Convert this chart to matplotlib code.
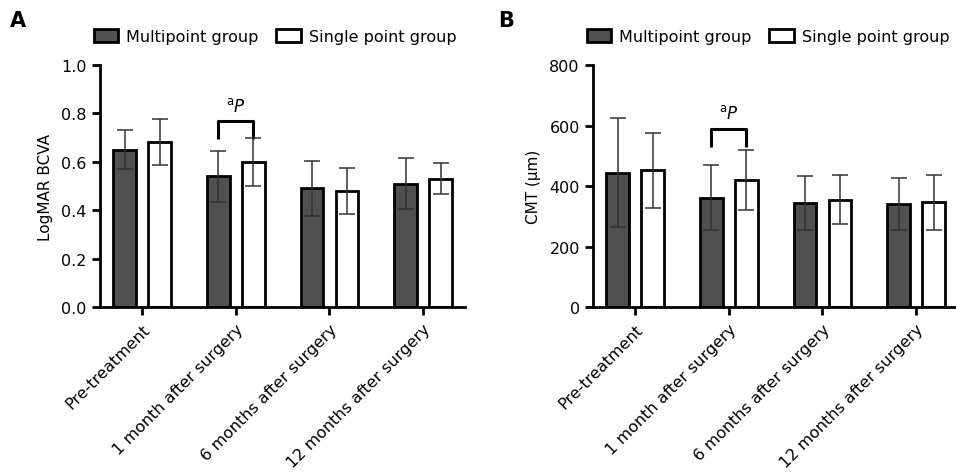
import numpy as np
import matplotlib.pyplot as plt

# Данные
timepoints = ["Pre-treatment", "1 month after surgery", "6 months after surgery",
              "12 months after surgery"]
groups = ["Multipoint group", "Single point group"]

bcva_multi = [0.65, 0.54, 0.49, 0.51]
bcva_multi_sd = [0.08, 0.105, 0.115, 0.105]
bcva_single = [0.68, 0.60, 0.48, 0.53]
bcva_single_sd = [0.095, 0.10, 0.094, 0.065]

cmt_multi = [444, 362, 344, 341]
cmt_multi_sd = [181, 107, 89, 87]
cmt_single = [452, 420, 355, 346]
cmt_single_sd = [124, 98, 81, 91]

plt.rcParams['font.family'] = ['DejaVu Sans']

dark = '#505050'
w = 0.24
off = 0.187


def draw_panel(ax, multi, multi_sd, single, single_sd, ylim, yticks, ylabel, fmt, br_y, br_h, txt_y):
    x = np.arange(len(timepoints))
    ax.bar(x - off, multi, w, color=dark, edgecolor='black', linewidth=2, label=groups[0], zorder=2)
    ax.bar(x + off, single, w, color='white', edgecolor='black', linewidth=2, label=groups[1], zorder=2)
    ax.errorbar(x - off, multi, yerr=multi_sd, fmt='none', ecolor='#333333', elinewidth=1.1,
                capsize=6, capthick=1.1, zorder=3)
    ax.errorbar(x + off, single, yerr=single_sd, fmt='none', ecolor='#333333', elinewidth=1.1,
                capsize=6, capthick=1.1, zorder=3)

    # Скобка значимости
    x1, x2 = 1 - off, 1 + off
    ax.plot([x1, x1, x2, x2], [br_y - br_h, br_y, br_y, br_y - br_h], color='black', lw=2.2,
            solid_capstyle='butt', clip_on=False)
    ax.text(1, txt_y, r'$^{\mathrm{a}}\mathit{P}$', ha='center', va='center', fontsize=12)

    ax.set_xlim(-0.45, 3.45)
    ax.set_ylim(*ylim)
    ax.set_yticks(yticks)
    ax.set_yticklabels([fmt.format(v) for v in yticks])
    ax.set_xticks(x)
    ax.set_xticklabels(timepoints, rotation=45, ha='right', rotation_mode='anchor')
    ax.set_ylabel(ylabel, fontsize=11, labelpad=6)
    for s in ['top', 'right']:
        ax.spines[s].set_visible(False)
    for s in ['left', 'bottom']:
        ax.spines[s].set_linewidth(2)
    ax.tick_params(axis='both', width=2, length=6, labelsize=11.5, color='black')
    ax.tick_params(axis='x', pad=4)
    ax.legend(loc='lower left', bbox_to_anchor=(-0.035, 1.06), ncol=2, frameon=False, fontsize=11.5,
              handlelength=1.55, handleheight=0.8, columnspacing=1.1, handletextpad=0.5,
              borderaxespad=0)


fig = plt.figure(figsize=(9.56, 4.77), dpi=100)
axA = fig.add_axes([0.1046, 0.3543, 0.382, 0.5073])
axB = fig.add_axes([0.6203, 0.3543, 0.382, 0.5073])

draw_panel(axA, bcva_multi, bcva_multi_sd, bcva_single, bcva_single_sd,
           (0, 1.0), [0.0, 0.2, 0.4, 0.6, 0.8, 1.0], "LogMAR BCVA", "{:.1f}", 0.77, 0.075, 0.83)
draw_panel(axB, cmt_multi, cmt_multi_sd, cmt_single, cmt_single_sd,
           (0, 800), [0, 200, 400, 600, 800], "CMT (μm)", "{:.0f}", 588, 60, 640)

fig.text(0.010, 0.955, "A", fontsize=15, fontweight='bold', va='center')
fig.text(0.521, 0.955, "B", fontsize=15, fontweight='bold', va='center')

fig.savefig("out.png", dpi=100)
